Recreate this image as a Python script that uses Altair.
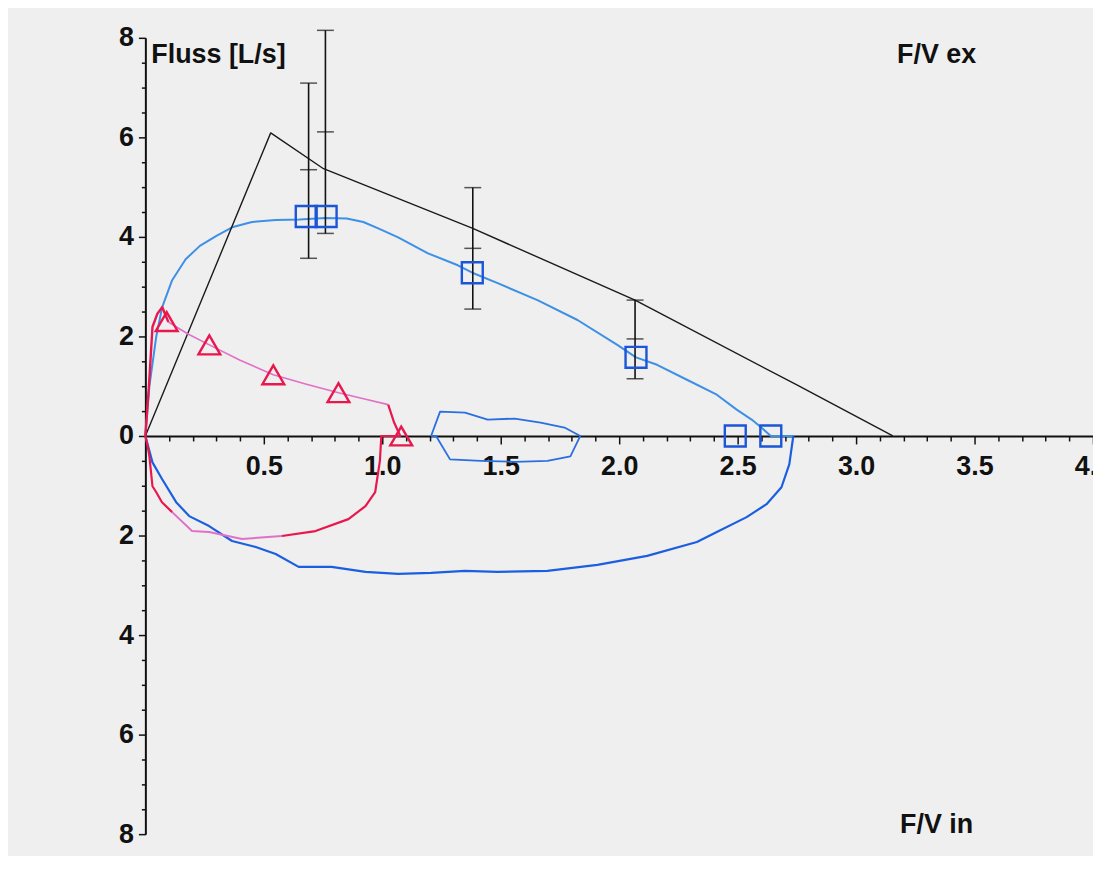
import altair as alt
import pandas as pd

# ---------------- data ----------------
# predicted (reference) flow-volume curve, black
pred_x = [0, 0.529, 0.752, 1.382, 2.067, 2.748, 3.155]
pred_y = [0, 6.09, 5.37, 4.17, 2.73, 1.03, 0]

# error bars of the reference values
eb_x = [0.689, 0.76, 1.382, 2.067]
eb_lo = [3.57, 4.07, 2.55, 1.15]
eb_mid = [5.35, 6.11, 3.77, 1.95]
eb_hi = [7.09, 8.15, 4.99, 2.73]

# measured loop 1 (blue), expiration
ex_x = [0, 0.017, 0.046, 0.071, 0.113, 0.17, 0.23, 0.3, 0.37, 0.45, 0.55, 0.65, 0.76,
        0.85, 0.92, 0.983, 1.067, 1.193, 1.319, 1.38, 1.487, 1.655, 1.824, 1.992, 2.071,
        2.16, 2.286, 2.412, 2.496, 2.559, 2.6, 2.64, 2.735]
ex_y = [0, 1.0, 2.0, 2.59, 3.13, 3.55, 3.82, 4.02, 4.2, 4.3, 4.34, 4.35, 4.38,
        4.37, 4.3, 4.17, 3.99, 3.67, 3.43, 3.28, 3.07, 2.73, 2.33, 1.83, 1.58,
        1.43, 1.13, 0.83, 0.53, 0.33, 0.17, 0, 0]
# measured loop 1 (blue), inspiration
in_x = [2.735, 2.718, 2.685, 2.622, 2.538, 2.412, 2.328, 2.118, 1.908, 1.697, 1.487,
        1.349, 1.206, 1.067, 0.929, 0.786, 0.647, 0.55, 0.466, 0.366, 0.269, 0.185,
        0.13, 0.071, 0.03, 0]
in_y = [0, -0.57, -1.03, -1.37, -1.63, -1.93, -2.13, -2.41, -2.59, -2.71, -2.73,
        -2.71, -2.75, -2.77, -2.73, -2.63, -2.63, -2.37, -2.23, -2.11, -1.81, -1.61,
        -1.33, -0.87, -0.53, 0]
# small blue loop
loop_x = [1.206, 1.244, 1.349, 1.445, 1.559, 1.668, 1.769, 1.836, 1.794, 1.697,
          1.559, 1.416, 1.286, 1.227, 1.206]
loop_y = [0, 0.49, 0.47, 0.33, 0.35, 0.27, 0.17, 0, -0.41, -0.5,
          -0.52, -0.5, -0.47, 0, 0]
# blue square markers
sq_x = [0.679, 0.763, 1.38, 2.071, 2.49, 2.64]
sq_y = [4.41, 4.41, 3.28, 1.58, 0, 0]

# measured loop 2 (red / pink), split by colour
red1_x = [0, 0.015, 0.03, 0.05, 0.071, 0.097]
red1_y = [0, 1.0, 2.19, 2.45, 2.59, 2.29]
pink1_x = [0.097, 0.18, 0.27, 0.4, 0.54, 0.68, 0.815, 0.93, 1.025]
pink1_y = [2.29, 2.05, 1.83, 1.52, 1.23, 1.04, 0.87, 0.74, 0.63]
red2_x = [1.025, 1.05, 1.076, 0.996, 0.99, 0.97, 0.929, 0.857, 0.718, 0.576]
red2_y = [0.63, 0.27, 0, 0, -0.5, -1.13, -1.41, -1.67, -1.91, -2.01]
pink2_x = [0.576, 0.408, 0.269, 0.197, 0.113]
pink2_y = [-2.01, -2.07, -1.93, -1.91, -1.53]
red3_x = [0.113, 0.07, 0.046, 0.03, 0.017, 0.01, 0]
red3_y = [-1.53, -1.33, -1.13, -1.01, -0.41, -0.21, 0]
# red triangle markers
tri_x = [0.09, 0.27, 0.54, 0.815, 1.08]
tri_y = [2.3, 1.83, 1.23, 0.87, 0]

# annotations
txt_label = ["Fluss [L/s]", "F/V ex", "F/V in"]
txt_x = [0.025, 3.34, 3.34]
txt_y = [7.66, 7.66, -7.82]
txt_align = ["left", "center", "center"]

x_ticks = [round(0.1 * i, 1) for i in range(1, 41)]
y_ticks = [-8 + 0.5 * i for i in range(33)]

# ---------------- chart ----------------
FONT = "Liberation Sans"
FS = 27
xs = alt.Scale(domain=[0, 4.0], nice=False, zero=False)
ys = alt.Scale(domain=[-8, 8], nice=False, zero=False)

major_x = "abs(datum.value*2 - round(datum.value*2)) < 0.001"
xaxis = alt.Axis(
    values=x_ticks, orient="bottom", offset=-400, title=None, grid=False,
    labelExpr=f"{major_x} ? format(datum.value, '.1f') : ''",
    tickSize={"condition": {"test": major_x, "value": 8}, "value": 5},
    labelFlush=False, labelOverlap=False, labelPadding=10,
)
yaxis = alt.Axis(
    values=y_ticks, orient="left", title=None, grid=False,
    labelExpr="datum.value % 2 == 0 ? format(abs(datum.value), 'd') : ''",
    tickSize={"condition": {"test": "datum.value % 2 == 0", "value": 7}, "value": 4},
    labelFlush=False, labelOverlap=False, labelPadding=5,
)

X = alt.X("x:Q", scale=xs, axis=xaxis)
Y = alt.Y("y:Q", scale=ys, axis=yaxis)


def path(xv, yv, color, width):
    df = pd.DataFrame({"x": xv, "y": yv, "i": list(range(len(xv)))})
    return alt.Chart(df).mark_line(color=color, strokeWidth=width, strokeJoin="round").encode(
        x=X, y=Y, order="i:Q")


layers = []
layers.append(path(loop_x, loop_y, "#2a6ee0", 1.8))
layers.append(path(ex_x, ex_y, "#3d90e6", 2.0))
layers.append(path(in_x, in_y, "#1b5fe0", 2.2))
layers.append(path(pred_x, pred_y, "#1a1a1a", 1.4))
layers.append(path(pink1_x, pink1_y, "#e070c8", 1.6))
layers.append(path(pink2_x, pink2_y, "#e070c8", 2.0))
layers.append(path(red1_x, red1_y, "#e8174d", 2.4))
layers.append(path(red2_x, red2_y, "#e8174d", 2.2))
layers.append(path(red3_x, red3_y, "#e8174d", 2.2))

eb_df = pd.DataFrame({"x": eb_x, "lo": eb_lo, "hi": eb_hi})
layers.append(alt.Chart(eb_df).mark_rule(color="#111111", strokeWidth=1.6).encode(
    x=X, y=alt.Y("lo:Q", scale=ys, axis=yaxis), y2="hi:Q"))
caps_df = pd.DataFrame({"x": eb_x * 3, "y": eb_lo + eb_mid + eb_hi})
layers.append(alt.Chart(caps_df).mark_tick(color="#111111", orient="horizontal",
                                            size=17, thickness=1.5).encode(x=X, y=Y))

sq_df = pd.DataFrame({"x": sq_x, "y": sq_y})
layers.append(alt.Chart(sq_df).mark_point(shape="square", size=441, filled=False,
                                          color="#1b55d8", strokeWidth=2.4, opacity=1).encode(x=X, y=Y))
tri_df = pd.DataFrame({"x": tri_x, "y": tri_y})
layers.append(alt.Chart(tri_df).mark_point(shape="triangle-up", size=480, filled=False,
                                           color="#e8174d", strokeWidth=2.4, opacity=1).encode(x=X, y=Y))

txt_df = pd.DataFrame({"x": txt_x, "y": txt_y, "t": txt_label, "a": txt_align})
for a in ["left", "center"]:
    layers.append(alt.Chart(txt_df[txt_df.a == a]).mark_text(
        align=a, baseline="middle", font=FONT, fontSize=FS, fontWeight="bold", color="#111111"
    ).encode(x=X, y=Y, text="t:N"))

chart = alt.layer(*layers).properties(
    width=952, height=800,
    autosize=alt.AutoSizeParams(type="none"),
    padding={"left": 138, "top": 28, "right": 0, "bottom": 20},
    background="#efefef",
).configure_view(stroke=None).configure_axis(
    labelFont=FONT, labelFontSize=FS, labelFontWeight="bold", labelColor="#111111",
    domainColor="#111111", domainWidth=2, tickColor="#111111", tickWidth=1.5,
)

chart.save("out.html", embed_options={"renderer": "svg", "actions": False})
